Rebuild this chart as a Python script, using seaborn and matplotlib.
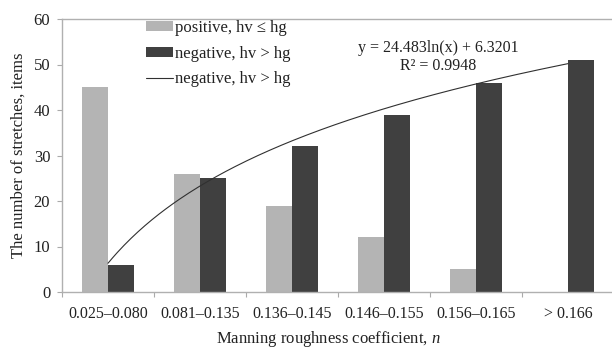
import numpy as np
import pandas as pd
import matplotlib
matplotlib.use("Agg")
import matplotlib.pyplot as plt
import seaborn as sns
from matplotlib.patches import Patch
from matplotlib.lines import Line2D

categories = ["0.025–0.080", "0.081–0.135", "0.136–0.145", "0.146–0.155", "0.156–0.165", "> 0.166"]
positive = [45, 26, 19, 12, 5, 0]
negative = [6, 25, 32, 39, 46, 51]
series_names = ["positive, hv ≤ hg", "negative, hv > hg"]
trend_label = "negative, hv > hg"
equation_text = "y = 24.483ln(x) + 6.3201\nR² = 0.9948"
yticks = [0, 10, 20, 30, 40, 50, 60]

sns.set_theme(style="white")
plt.rcParams["font.family"] = ["Liberation Serif", "DejaVu Serif"]
plt.rcParams["mathtext.fontset"] = "custom"
plt.rcParams["mathtext.it"] = "Liberation Serif:italic"
plt.rcParams["mathtext.rm"] = "Liberation Serif"

df = pd.DataFrame({
    "category": categories * 2,
    "value": positive + negative,
    "series": [series_names[0]] * len(categories) + [series_names[1]] * len(categories),
})

fig = plt.figure(figsize=(6.12, 3.49), dpi=100)
ax = fig.add_axes([62 / 612, 1 - 292 / 349, 552 / 612, 273 / 349])

light = "#b4b4b4"
dark = "#404040"
sns.barplot(data=df, x="category", y="value", hue="series", order=categories,
            hue_order=series_names, palette=[light, dark], width=0.57,
            saturation=1, edgecolor="none", linewidth=0, ax=ax, legend=False)

# logarithmic trendline fitted to the negative series (x = 1..6)
xi = np.arange(1, len(negative) + 1)
a, b = np.polyfit(np.log(xi), negative, 1)
xs = np.linspace(1, len(negative), 200)
sns.lineplot(x=xs - 1, y=a * np.log(xs) + b, color="#303030", linewidth=0.8, ax=ax)

ax.set_xlim(-0.5, len(categories) - 0.5)
ax.set_ylim(0, 60)
ax.set_yticks(yticks)
ax.set_yticklabels([str(t) for t in yticks])

ax.set_xticks(range(len(categories)))
ax.set_xticklabels(categories)
ax.set_xticks(np.arange(-0.5, len(categories)), minor=True)
ax.tick_params(axis="x", which="major", length=0, pad=10, labelsize=11.5, colors="#222222")
ax.tick_params(axis="x", which="minor", length=3.5, width=0.8, color="#aaaaaa", direction="out", bottom=True)
ax.tick_params(axis="y", which="major", length=3.5, width=0.8, color="#aaaaaa", direction="out",
               left=True, pad=5, labelsize=12, labelcolor="#222222")

for s in ["left", "bottom", "top"]:
    ax.spines[s].set_visible(True)
    ax.spines[s].set_color("#b0b0b0")
    ax.spines[s].set_linewidth(1.0)
ax.spines["right"].set_visible(False)

ax.set_xlabel("Manning roughness coefficient, $n$", fontsize=12, color="#222222")
ax.set_ylabel("The number of stretches, items", fontsize=12, color="#222222")
ax.xaxis.set_label_coords((328 - 62) / 552, -(329 - 292) / 273)
ax.yaxis.set_label_coords(-(62 - 27) / 552, 0.5)

fig.text(438 / 612, 1 - 57 / 349, equation_text, ha="center", va="center",
         fontsize=11.5, color="#222222", linespacing=1.15)

handles = [Patch(facecolor=light, edgecolor="none"),
           Patch(facecolor=dark, edgecolor="none"),
           Line2D([0], [0], color="#303030", linewidth=0.8)]
labels = [series_names[0], series_names[1], trend_label]
fig.legend(handles, labels, loc="upper left", bbox_to_anchor=(146 / 612, 1 - 20 / 349),
           frameon=False, fontsize=12, handlelength=1.6, handletextpad=0.15,
           handleheight=0.5, labelspacing=0.58, borderpad=0, borderaxespad=0,
           labelcolor="#222222")

fig.savefig("out.png", dpi=100)
